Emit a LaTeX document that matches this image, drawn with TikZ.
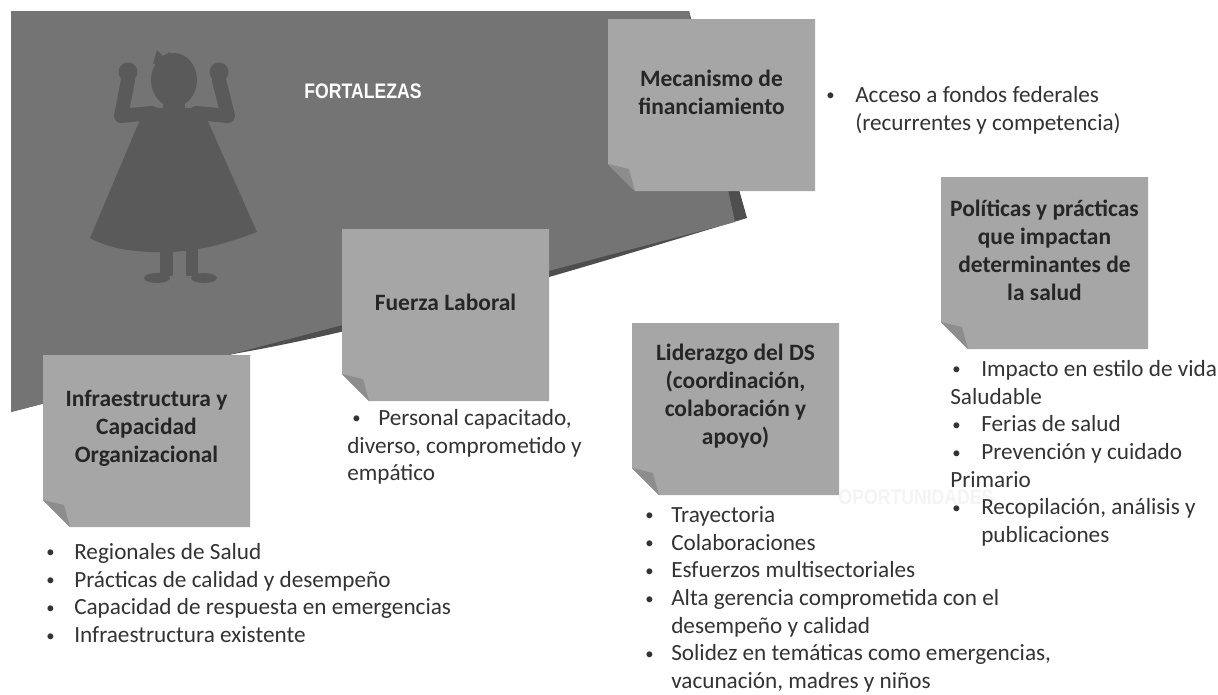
\documentclass[tikz,border=0pt]{standalone}
\usepackage{fontspec}
\usepackage{graphicx}
\setmainfont{Carlito}
\newfontfamily\headfont{Liberation Sans}
\usetikzlibrary{calc}

% one screen pixel
\newdimen\pxu \pxu=0.75pt
\newcommand{\bul}[1]{\makebox[#1\pxu][l]{\raisebox{0.06em}{\scalebox{0.72}{\textbullet}}}}
\newcommand{\ind}[1]{\hspace*{#1\pxu}}

\definecolor{pagegray}{HTML}{747474}
\definecolor{pageshadow}{HTML}{4E4E4E}
\definecolor{herogray}{HTML}{5A5A5A}
\definecolor{notegray}{HTML}{A6A6A6}
\definecolor{flapgray}{HTML}{8D8D8D}
\definecolor{titlegray}{HTML}{262626}
\definecolor{bodygray}{HTML}{333333}
\definecolor{ghostgray}{HTML}{F4F4F4}

\tikzset{
  notefill/.style={fill=notegray},
  flapfill/.style={fill=flapgray},
  notetitle/.style={font=\bfseries\fontsize{17.6pt}{21pt}\selectfont,
    text=titlegray, align=center, inner sep=0pt},
  bodytext/.style={font=\fontsize{17.4pt}{20.8pt}\selectfont,
    text=bodygray, align=left, inner sep=0pt, anchor=north west},
  headline/.style={font=\headfont\bfseries\fontsize{15.75pt}{18pt}\selectfont,
    inner sep=0pt},
}

% sticky note with a folded lower-left corner: name, left, top, title
\newcommand{\stickynote}[4]{%
  \fill[notefill] (#2,#3) -- (#2+207,#3) -- (#2+207,#3+172)
    -- (#2+27,#3+172) -- (#2,#3+145) -- cycle;
  \fill[flapfill] (#2,#3+145) -- (#2+21,#3+150) -- (#2+27,#3+172) -- cycle;
  \node[notetitle] (#1) at (#2+103.5,#3+73) {#4};
}

\begin{document}
\begin{tikzpicture}[x=0.75pt,y=-0.75pt]
\useasboundingbox (0,0) rectangle (1218,694);
\fill[white] (0,0) rectangle (1218,694);

% curled backdrop sheet
\fill[pageshadow] (689,11) -- (747,218)
  .. controls (600,262) and (400,325) .. (233,354) -- (11,412) -- (11,11) -- cycle;
\fill[pagegray] (11,11) -- (689,11) -- (735,222) -- (11,412) -- cycle;

% hero silhouette
\begin{scope}[herogray]
  \fill (145,108) -- (202,108) -- (257,232)
    .. controls (230,242) and (205,250) .. (172,252)
    .. controls (140,253) and (112,250) .. (90,238) -- cycle;
  \fill (163,96) rectangle (185,112);
  \fill (174,80) ellipse (23 and 27);
  \fill (153,64) -- (157,50) -- (163,56) -- (170,52) -- (169,64) -- cycle;
  \draw[line width=10.5pt, line join=round, line cap=round]
    (128,80) -- (121,116) -- (152,113);
  \draw[line width=10.5pt, line join=round, line cap=round]
    (219,80) -- (228,116) -- (196,113);
  \fill (128,72) circle (9.5);
  \fill (219,72) circle (9.5);
  \fill (160,244) rectangle (173,276);
  \fill (186,244) rectangle (198,276);
  \fill (157,278) ellipse (13 and 5);
  \fill (204,278) ellipse (13 and 5);
\end{scope}

\node[headline, text=white] (fort) at (363,91) {\scalebox{0.84}[1]{FORTALEZAS}};
\node[headline, text=ghostgray] (opor) at (916,497) {\scalebox{0.84}[1]{OPORTUNIDADES}};

% topic notes
\stickynote{mec}{608}{19}{Mecanismo de\\financiamiento}
\stickynote{fue}{342}{229}{Fuerza Laboral}
\stickynote{inf}{43}{355}{Infraestructura y\\Capacidad\\Organizacional}
\stickynote{lid}{632}{323}{Liderazgo del DS\\(coordinación,\\colaboración y\\apoyo)}
\stickynote{pol}{941}{177}{Políticas y prácticas\\que impactan\\determinantes de\\la salud}

% bullet lists
\node[bodytext] (mecl) at (826,82.6)
  {\strut\bul{29}Acceso a fondos federales\\\strut\ind{29}(recurrentes y competencia)};
\node[bodytext] (fuel) at (347,405.6)
  {\strut\ind{5}\bul{26}Personal capacitado,\\\strut diverso, comprometido y\\\strut empático};
\node[bodytext] (infl) at (46,539.6)
  {\strut\bul{28}Regionales de Salud\\
   \strut\bul{28}Prácticas de calidad y desempeño\\
   \strut\bul{28}Capacidad de respuesta en emergencias\\
   \strut\bul{28}Infraestructura existente};
\node[bodytext] (lidl) at (645,502.6)
  {\strut\bul{26}Trayectoria\\
   \strut\bul{26}Colaboraciones\\
   \strut\bul{26}Esfuerzos multisectoriales\\
   \strut\bul{26}Alta gerencia comprometida con el\\
   \strut\ind{26}desempeño y calidad\\
   \strut\bul{26}Solidez en temáticas como emergencias,\\
   \strut\ind{26}vacunación, madres y niños};
\node[bodytext] (poll) at (950,356.6)
  {\strut\ind{2}\bul{29}Impacto en estilo de vida\\
   \strut Saludable\\
   \strut\ind{2}\bul{29}Ferias de salud\\
   \strut\ind{2}\bul{29}Prevención y cuidado\\
   \strut Primario\\
   \strut\ind{2}\bul{29}Recopilación, análisis y\\
   \strut\ind{31}publicaciones};
\end{tikzpicture}
\end{document}
